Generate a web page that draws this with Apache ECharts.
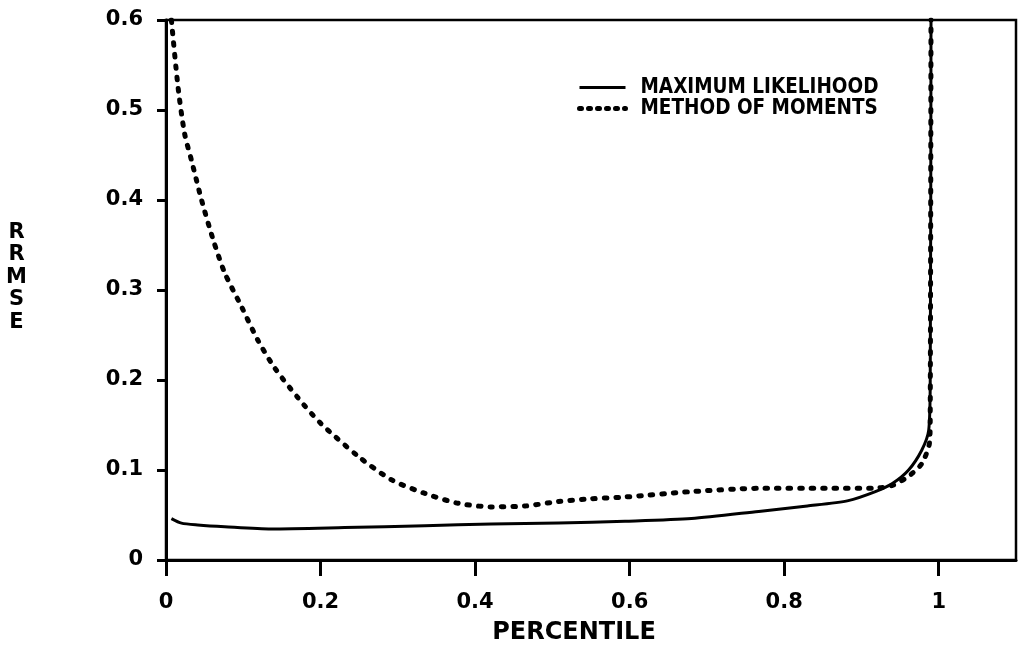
<!DOCTYPE html>
<html>
<head>
<meta charset="utf-8">
<script src="https://cdn.jsdelivr.net/npm/echarts@6/dist/echarts.min.js"></script>
<style>
  html, body { margin: 0; padding: 0; background: #fff; }
  #chart { width: 1018px; height: 646px; }
</style>
</head>
<body>
<div id="chart"></div>
<script>
// Relative RMSE of the quantile estimate versus percentile, two estimators
const seriesNames = ['MAXIMUM LIKELIHOOD', 'METHOD OF MOMENTS'];

const mlX = [0.007, 0.02, 0.041, 0.076, 0.136, 0.231, 0.335, 0.421, 0.508, 0.594,
             0.680, 0.767, 0.830, 0.883, 0.918, 0.940, 0.961, 0.978, 0.987, 0.989, 0.990];
const mlY = [0.046, 0.041, 0.039, 0.037, 0.0345, 0.036, 0.038, 0.040, 0.041, 0.043,
             0.046, 0.054, 0.060, 0.066, 0.076, 0.085, 0.100, 0.122, 0.144, 0.200, 0.600];

const momX = [0.007, 0.0155, 0.024, 0.033, 0.046, 0.061, 0.076, 0.098, 0.119, 0.141,
              0.171, 0.200, 0.249, 0.292, 0.335, 0.378, 0.421, 0.465, 0.508, 0.550,
              0.594, 0.680, 0.767, 0.853, 0.914, 0.940, 0.961, 0.978, 0.988, 0.989, 0.990];
const momY = [0.600, 0.526, 0.474, 0.444, 0.400, 0.356, 0.319, 0.281, 0.244, 0.213,
              0.180, 0.152, 0.115, 0.089, 0.074, 0.063, 0.059, 0.060, 0.065, 0.068,
              0.070, 0.076, 0.0796, 0.0796, 0.0796, 0.083, 0.093, 0.107, 0.130, 0.160, 0.600];

const xTicks = [0, 0.2, 0.4, 0.6, 0.8, 1];
const yTicks = [0, 0.1, 0.2, 0.3, 0.4, 0.5, 0.6];

const pairs = (xs, ys) => xs.map((x, i) => [x, ys[i]]);

const labelFont = {
  color: '#000',
  fontFamily: 'DejaVu Sans',
  fontWeight: 'bold',
  fontSize: 21
};

const solidStyle = { color: '#000', width: 3, join: 'round' };
const dotStyle = { color: '#000', width: 5, type: [2.5, 9], cap: 'round', join: 'round' };

const chart = echarts.init(document.getElementById('chart'), null, { renderer: 'canvas' });

chart.setOption({
  animation: false,
  backgroundColor: '#fff',
  grid: {
    left: 166, right: 2, top: 20, bottom: 86,
    show: true, borderColor: '#000', borderWidth: 2.5
  },
  legend: {
    orient: 'vertical',
    left: 572, top: 72,
    itemWidth: 46, itemHeight: 10, itemGap: 0,
    data: [
      { name: seriesNames[0], lineStyle: { width: 3 } },
      { name: seriesNames[1], lineStyle: { width: 5, type: [2, 7], cap: 'round' } }
    ],
    itemStyle: { color: 'transparent', borderColor: 'transparent', borderWidth: 0 },
    textStyle: {
      color: '#000',
      fontFamily: 'DejaVu Sans Condensed, DejaVu Sans',
      fontWeight: 'bold',
      fontSize: 20.5,
      lineHeight: 20,
      padding: [0, 0, 0, 10]
    }
  },
  xAxis: {
    type: 'value',
    min: 0, max: 1.1, interval: 0.2,
    splitLine: { show: false },
    axisLine: { onZero: false, lineStyle: { color: '#000', width: 3 } },
    axisTick: { customValues: xTicks, length: 16, lineStyle: { color: '#000', width: 3 } },
    axisLabel: Object.assign({ customValues: xTicks, margin: 32 }, labelFont)
  },
  yAxis: {
    type: 'value',
    min: 0, max: 0.6, interval: 0.1,
    splitLine: { show: false },
    axisLine: { onZero: false, lineStyle: { color: '#000', width: 3 } },
    axisTick: { customValues: yTicks, length: 9, lineStyle: { color: '#000', width: 3 } },
    axisLabel: Object.assign({ customValues: yTicks, margin: 23 }, labelFont)
  },
  graphic: [
    {
      type: 'text', x: 574, y: 621,
      style: {
        text: 'PERCENTILE', fill: '#000', align: 'center', verticalAlign: 'top',
        font: 'bold 24px "DejaVu Sans"'
      }
    },
    {
      type: 'text', x: 16.5, y: 221,
      style: {
        text: 'R\nR\nM\nS\nE', fill: '#000', align: 'center', verticalAlign: 'top',
        lineHeight: 22.5,
        font: 'bold 21px "DejaVu Sans"'
      }
    }
  ],
  series: [
    {
      name: seriesNames[0],
      type: 'line',
      data: pairs(mlX, mlY),
      showSymbol: false, symbol: 'none',
      smooth: 0.25,
      clip: true,
      lineStyle: solidStyle,
      itemStyle: { color: '#000' }
    },
    {
      name: seriesNames[1],
      type: 'line',
      data: pairs(momX, momY),
      showSymbol: false, symbol: 'none',
      smooth: 0.25,
      clip: true,
      lineStyle: dotStyle,
      itemStyle: { color: '#000' }
    }
  ]
});
</script>
</body>
</html>
